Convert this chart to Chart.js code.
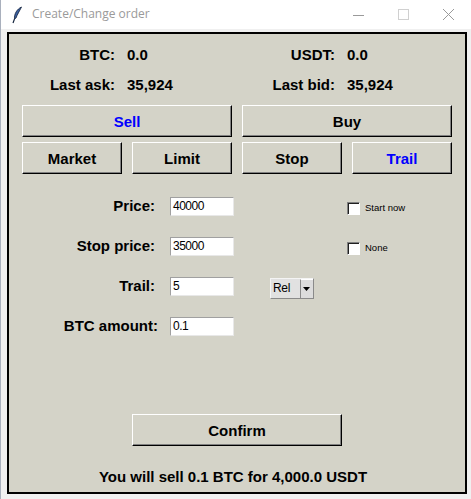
<!DOCTYPE html>
<html>
<head>
<meta charset="utf-8">
<script src="https://cdn.jsdelivr.net/npm/chart.js@4.4.1/dist/chart.umd.min.js"></script>
<style>
  html, body { margin: 0; padding: 0; }
  body { width: 471px; height: 499px; position: relative; overflow: hidden; background: #f0f0f0; font-family: "Liberation Sans", Arial, sans-serif; }
  .abs { position: absolute; }
  #titlebar { left: 0; top: 0; width: 471px; height: 29px; background: #ffffff; }
  #title { left: 32px; top: 6px; font-family: "Open Sans", "Noto Sans", sans-serif; font-size: 12px; color: #9a9a9a; line-height: 16px; white-space: nowrap; }
  #leftedge { left: 0; top: 0; width: 1px; height: 499px; background: #a9b0bd; }
  #frame { left: 7px; top: 32px; width: 456px; height: 458px; border: 2px solid #000; background: #d4d3c8; }
  .lbl { font-weight: bold; font-size: 15px; line-height: 20px; color: #000; white-space: nowrap; }
  .r { text-align: right; }
  .btn { box-sizing: border-box; background: #d4d3c8; border-top: 1px solid #fff; border-left: 1px solid #fff; border-right: 1px solid #000; border-bottom: 1px solid #000; box-shadow: inset -1px -1px 0 #808080; display: flex; align-items: center; justify-content: center; font-weight: bold; font-size: 15px; color: #000; }
  .btn.sel { color: #0000ff; }
  .entry { box-sizing: border-box; background: #fff; border-top: 1px solid #a0a0a0; border-left: 1px solid #a0a0a0; border-right: 1px solid #e8e8e8; border-bottom: 1px solid #e8e8e8; font-size: 12px; letter-spacing: -0.5px; line-height: 17px; padding-left: 2px; color: #000; }
  .chk { box-sizing: border-box; width: 13px; height: 13px; background: #fff; border-top: 1px solid #808080; border-left: 1px solid #808080; border-right: 1px solid #fff; border-bottom: 1px solid #fff; box-shadow: inset 1px 1px 0 #202020; }
  .chklbl { font-size: 9.5px; line-height: 12px; color: #000; white-space: nowrap; }
</style>
</head>
<body>
<div id="titlebar" class="abs"></div>
<div id="leftedge" class="abs"></div>
<svg class="abs" style="left:11px;top:6px" width="12" height="18" viewBox="0 0 12 18">
  <path d="M10.5 1 C6 3 3 8 3.5 13 L5 12 C6 9 8.5 5 10.5 1 Z" fill="#3a5f9f" stroke="#10203a" stroke-width="0.8"/>
  <path d="M3.5 13 L2 17" stroke="#10203a" stroke-width="1.2"/>
</svg>
<div id="title" class="abs">Create/Change order</div>
<svg class="abs" style="left:350px;top:6px" width="110" height="18" viewBox="0 0 110 18">
  <line x1="3" y1="9.5" x2="14" y2="9.5" stroke="#9a9a9a" stroke-width="1"/>
  <rect x="48.5" y="3.5" width="10" height="10" fill="none" stroke="#d0d0d0" stroke-width="1"/>
  <line x1="93" y1="3" x2="104" y2="14" stroke="#9a9a9a" stroke-width="1"/>
  <line x1="104" y1="3" x2="93" y2="14" stroke="#9a9a9a" stroke-width="1"/>
</svg>
<div id="frame" class="abs"></div>
<div id="ui"></div>
<canvas id="chart" width="1" height="1" style="position:absolute;left:0;top:0;width:1px;height:1px;opacity:0"></canvas>
<script>
// ---- data ----
const balanceLabels = ["BTC:", "USDT:"];
const balanceValues = ["0.0", "0.0"];
const quoteLabels = ["Last ask:", "Last bid:"];
const quoteValues = ["35,924", "35,924"];
const sideButtons = ["Sell", "Buy"];
const selectedSide = "Sell";
const orderTypes = ["Market", "Limit", "Stop", "Trail"];
const selectedType = "Trail";
const fieldLabels = ["Price:", "Stop price:", "Trail:", "BTC amount:"];
const fieldValues = ["40000", "35000", "5", "0.1"];
const checkLabels = ["Start now", "None"];
const trailModes = ["Rel"];
const confirmLabel = "Confirm";
const summaryText = "You will sell 0.1 BTC for 4,000.0 USDT";

// ---- layout ----
const ui = document.getElementById('ui');
function el(cls, style, text) {
  const d = document.createElement('div');
  d.className = 'abs ' + cls;
  Object.assign(d.style, style);
  if (text !== undefined) d.textContent = text;
  ui.appendChild(d);
  return d;
}
// balance / quote rows
const colRight = [115, 335];
const colVal = [127, 347];
[[balanceLabels, balanceValues, 45], [quoteLabels, quoteValues, 75]].forEach(([labs, vals, top]) => {
  labs.forEach((t, i) => {
    el('lbl r', { left: (colRight[i] - 120) + 'px', width: '120px', top: top + 'px' }, t);
    el('lbl', { left: colVal[i] + 'px', top: top + 'px' }, vals[i]);
  });
});
// side buttons
const sideX = [22, 242];
sideButtons.forEach((t, i) => {
  el('btn' + (t === selectedSide ? ' sel' : ''), { left: sideX[i] + 'px', top: '105px', width: '210px', height: '32px' }, t);
});
// order type buttons
const typeX = [22, 132, 242, 352];
orderTypes.forEach((t, i) => {
  el('btn' + (t === selectedType ? ' sel' : ''), { left: typeX[i] + 'px', top: '142px', width: '100px', height: '32px' }, t);
});
// fields
const fieldTops = [197, 237, 277, 317];
const fieldRight = [155, 155, 155, 158];
fieldLabels.forEach((t, i) => {
  el('lbl r', { left: (fieldRight[i] - 150) + 'px', width: '150px', top: (fieldTops[i] - 1) + 'px' }, t);
  el('entry', { left: '170px', top: fieldTops[i] + 'px', width: '64px', height: '19px' }, fieldValues[i]);
});
// checkboxes
const chkTops = [202, 242];
checkLabels.forEach((t, i) => {
  el('chk', { left: '347px', top: chkTops[i] + 'px' });
  el('chklbl', { left: '365px', top: (chkTops[i] + 0) + 'px' }, t);
});
// option menu
el('', { left: '270px', top: '278px', width: '44px', height: '21px', boxSizing: 'border-box', background: '#e1e1e1', borderTop: '1px solid #f4f4f4', borderLeft: '1px solid #f4f4f4', borderRight: '1px solid #8a8a8a', borderBottom: '1px solid #8a8a8a' });
el('', { left: '273px', top: '280px', fontSize: '12px', letterSpacing: '-0.3px', lineHeight: '17px', color: '#000' }, trailModes[0]);
el('', { left: '300px', top: '279px', width: '13px', height: '19px', boxSizing: 'border-box', background: '#dcdcdc', borderLeft: '1px solid #8a8a8a', borderTop: '1px solid #fff' });
const arrow = document.createElementNS('http://www.w3.org/2000/svg', 'svg');
arrow.setAttribute('width', '7'); arrow.setAttribute('height', '4');
arrow.style.position = 'absolute'; arrow.style.left = '303px'; arrow.style.top = '287px';
arrow.innerHTML = '<path d="M0 0 L7 0 L3.5 4 Z" fill="#000"/>';
ui.appendChild(arrow);
// confirm
el('btn', { left: '132px', top: '414px', width: '210px', height: '32px' }, confirmLabel);
// summary
el('lbl', { left: '0px', width: '466px', top: '467px', textAlign: 'center' }, summaryText);

// Chart.js instance (no plotted marks in this window)
if (window.Chart) {
  new Chart(document.getElementById('chart'), { type: 'bar', data: { labels: [], datasets: [] }, options: { responsive: false, animation: false, plugins: { legend: { display: false } }, scales: { x: { display: false }, y: { display: false } } } });
}
</script>
</body>
</html>
